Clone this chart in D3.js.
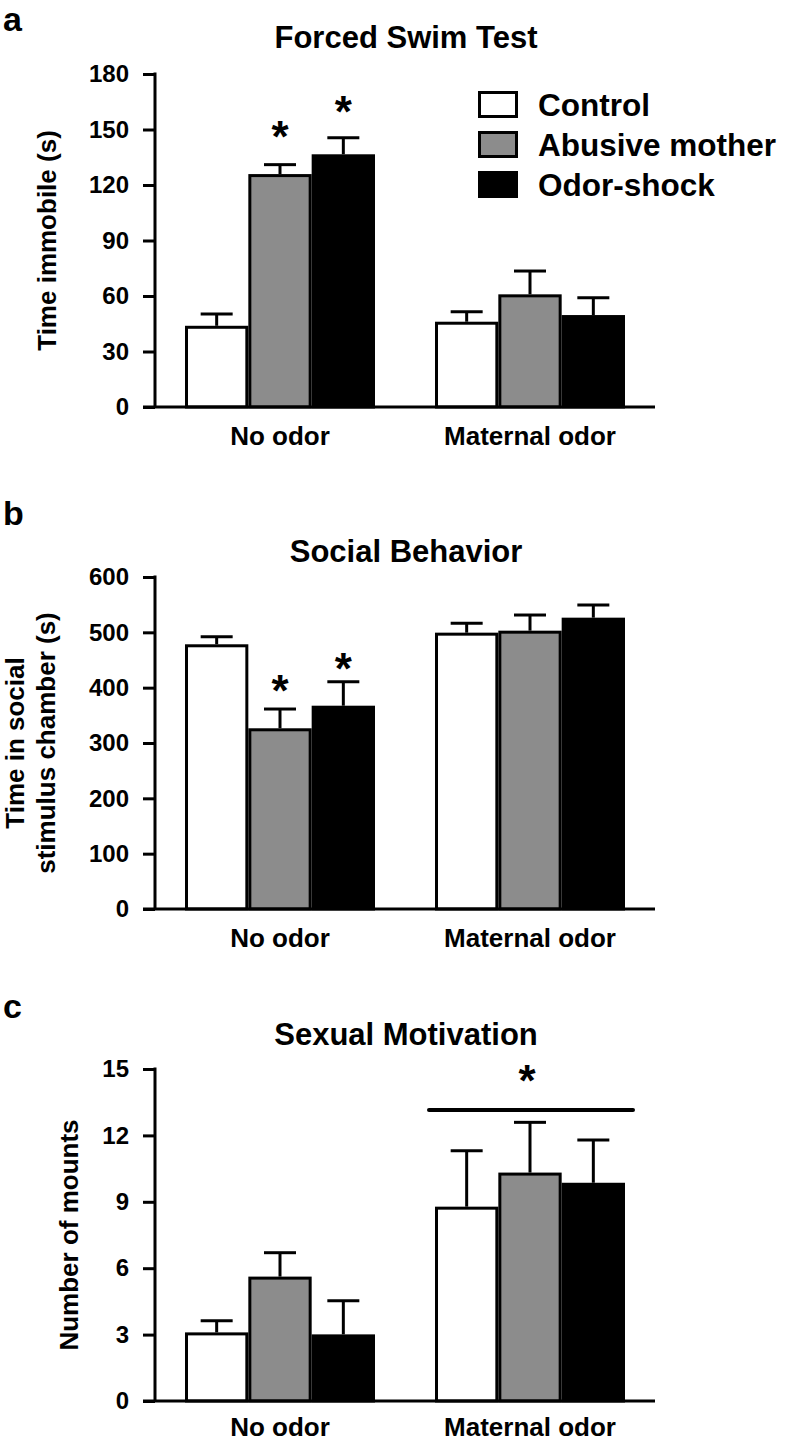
<!DOCTYPE html>
<html>
<head>
<meta charset="utf-8">
<script src="https://cdn.jsdelivr.net/npm/d3@7"></script>
<style>
  html, body { margin: 0; padding: 0; background: #fff; }
  svg { display: block; }
  text { font-family: "Liberation Sans", Arial, Helvetica, sans-serif; font-weight: bold; fill: #000; }
</style>
</head>
<body>
<svg id="chart" width="785" height="1443"></svg>
<script>
// ---------- data ----------
const groups = ["No odor", "Maternal odor"];
const series = ["Control", "Abusive mother", "Odor-shock"];
const seriesColors = ["#ffffff", "#8c8c8c", "#000000"];

// Forced Swim Test: time immobile (s)
const fstMean = [[43.9, 125.9, 136.6], [46.1, 60.9, 49.7]];
const fstSem  = [[6.4, 5.1, 9.0], [5.4, 12.6, 9.4]];
const fstTicks = [0, 30, 60, 90, 120, 150, 180];
const fstStars = [{g: 0, s: 1, v: 151.4}, {g: 0, s: 2, v: 164.9}];

// Social Behavior: time in social stimulus chamber (s)
const socMean = [[478.4, 326.6, 367.4], [499.4, 503.0, 526.5]];
const socSem  = [[13.7, 34.8, 43.4], [17.0, 28.3, 22.9]];
const socTicks = [0, 100, 200, 300, 400, 500, 600];
const socStars = [{g: 0, s: 1, v: 410.8}, {g: 0, s: 2, v: 451.8}];

// Sexual Motivation: number of mounts
const sexMean = [[3.10, 5.62, 3.01], [8.78, 10.32, 9.86]];
const sexSem  = [[0.53, 1.08, 1.52], [2.53, 2.27, 1.93]];
const sexTicks = [0, 3, 6, 9, 12, 15];
const sexBracket = {g: 1, v: 13.15, star: 14.88};

// ---------- layout ----------
const svg = d3.select("#chart");
const axisX = 155, axisRight = 655, tickLen = 12, lw = 3;
const fontTick = 24, fontTitle = 31, fontLabel = 26, fontLetter = 34, fontStar = 44;

const x0 = d3.scaleBand().domain(groups).range([axisX, axisRight]).paddingInner(0.24).paddingOuter(0.12);
const x1 = d3.scaleBand().domain(series).range([0, x0.bandwidth()]).padding(0);
const color = d3.scaleOrdinal().domain(series).range(seriesColors);

function panel(cfg) {
  const g = svg.append("g");
  const y = d3.scaleLinear().domain([0, cfg.max]).range([cfg.bottom, cfg.top]);

  // panel letter
  g.append("text").attr("x", 3).attr("y", cfg.letterY).attr("font-size", fontLetter).text(cfg.letter);
  // title
  g.append("text").attr("x", 406).attr("y", cfg.titleY).attr("text-anchor", "middle")
    .attr("font-size", fontTitle).text(cfg.title);

  // y label (rotated)
  const yl = g.append("text").attr("transform", `translate(${cfg.ylabX},${(cfg.top + cfg.bottom) / 2}) rotate(-90)`)
    .attr("text-anchor", "middle").attr("font-size", fontLabel);
  cfg.ylab.forEach((t, i) => {
    yl.append("tspan").attr("x", 0).attr("dy", i === 0 ? -(cfg.ylab.length - 1) * 31 : 31).text(t);
  });

  // bars
  const data = [];
  groups.forEach((gr, gi) => series.forEach((s, si) => {
    data.push({g: gr, s: s, m: cfg.mean[gi][si], e: cfg.sem[gi][si]});
  }));

  // error bars (behind bars)
  const eb = g.append("g").attr("stroke", "#000").attr("stroke-width", lw);
  data.forEach(d => {
    const cx = x0(d.g) + x1(d.s) + x1.bandwidth() / 2;
    eb.append("line").attr("x1", cx).attr("x2", cx).attr("y1", y(d.m)).attr("y2", y(d.m + d.e));
    eb.append("line").attr("x1", cx - 16).attr("x2", cx + 16).attr("y1", y(d.m + d.e)).attr("y2", y(d.m + d.e));
  });

  g.append("g").selectAll("rect").data(data).join("rect")
    .attr("x", d => x0(d.g) + x1(d.s) + lw / 2)
    .attr("width", x1.bandwidth() - lw)
    .attr("y", d => y(d.m) + lw / 2)
    .attr("height", d => y(0) - y(d.m) - lw / 2)
    .attr("fill", d => color(d.s))
    .attr("stroke", "#000").attr("stroke-width", lw);

  // y axis
  const ax = g.append("g").attr("transform", `translate(${axisX},0)`)
    .call(d3.axisLeft(y).tickValues(cfg.ticks).tickSize(tickLen).tickSizeOuter(0).tickPadding(14));
  ax.selectAll("path, line").attr("stroke", "#000").attr("stroke-width", lw);
  ax.select(".domain").attr("d", `M0,${y(cfg.max) - lw / 2}V${y(0)}`);
  ax.selectAll("text").attr("font-size", fontTick).attr("font-family", null).attr("fill", "#000")
    .attr("font-weight", "bold");

  // x axis line
  g.append("line").attr("x1", axisX - tickLen).attr("x2", axisRight).attr("y1", y(0)).attr("y2", y(0))
    .attr("stroke", "#000").attr("stroke-width", lw);

  // group labels
  g.append("g").selectAll("text").data(groups).join("text")
    .attr("x", d => x0(d) + x0.bandwidth() / 2)
    .attr("y", y(0) + cfg.xlabOffset)
    .attr("text-anchor", "middle").attr("font-size", fontLabel)
    .text(d => d);

  // stars
  (cfg.stars || []).forEach(st => {
    const cx = x0(groups[st.g]) + x1(series[st.s]) + x1.bandwidth() / 2;
    g.append("text").attr("x", cx).attr("y", y(st.v) + fontStar * 0.56)
      .attr("text-anchor", "middle").attr("font-size", fontStar).text("*");
  });

  if (cfg.bracket) {
    const b = cfg.bracket;
    const gx = x0(groups[b.g]);
    g.append("line").attr("x1", gx - 6).attr("x2", gx + x0.bandwidth() + 8)
      .attr("y1", y(b.v)).attr("y2", y(b.v)).attr("stroke", "#000").attr("stroke-width", lw + 1)
      .attr("stroke-linecap", "round");
    g.append("text").attr("x", gx + x0.bandwidth() / 2 - 3).attr("y", y(b.star) + fontStar * 0.56)
      .attr("text-anchor", "middle").attr("font-size", fontStar).text("*");
  }

  return {g, y};
}

panel({letter: "a", letterY: 31, title: "Forced Swim Test", titleY: 48,
  top: 74, bottom: 407, max: 180, ticks: fstTicks, mean: fstMean, sem: fstSem,
  ylab: ["Time immobile (s)"], ylabX: 56, stars: fstStars, xlabOffset: 38});

panel({letter: "b", letterY: 525, title: "Social Behavior", titleY: 562,
  top: 577, bottom: 909, max: 600, ticks: socTicks, mean: socMean, sem: socSem,
  ylab: ["Time in social", "stimulus chamber (s)"], ylabX: 55, stars: socStars, xlabOffset: 38});

panel({letter: "c", letterY: 1018, title: "Sexual Motivation", titleY: 1045,
  top: 1069, bottom: 1401, max: 15, ticks: sexTicks, mean: sexMean, sem: sexSem,
  ylab: ["Number of mounts"], ylabX: 78, bracket: sexBracket, xlabOffset: 35});

// legend
const leg = svg.append("g").attr("transform", "translate(478,91)");
series.forEach((s, i) => {
  const row = leg.append("g").attr("transform", `translate(0,${i * 40})`);
  row.append("rect").attr("x", lw / 2).attr("y", lw / 2).attr("width", 40 - lw).attr("height", 27 - lw)
    .attr("fill", color(s)).attr("stroke", "#000").attr("stroke-width", lw);
  row.append("text").attr("x", 60).attr("y", 25).attr("font-size", 31.5).text(s);
});
</script>
</body>
</html>
